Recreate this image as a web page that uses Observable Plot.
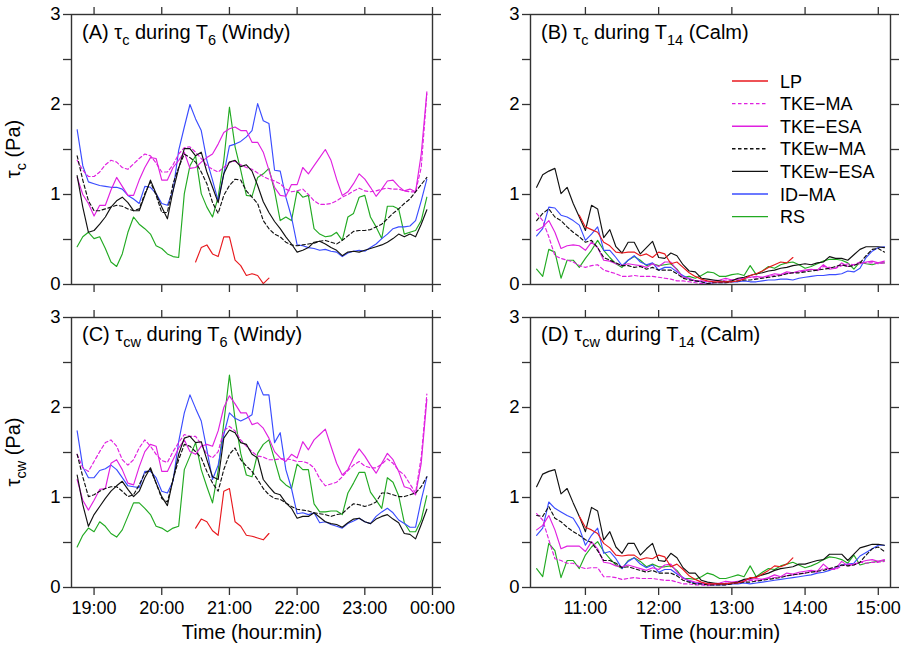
<!DOCTYPE html>
<html>
<head>
<meta charset="utf-8">
<script src="https://cdn.jsdelivr.net/npm/d3@7"></script>
<script src="https://cdn.jsdelivr.net/npm/@observablehq/plot@0.6"></script>
<style>
  html, body { margin: 0; padding: 0; background: #fff; }
  #chart { position: relative; width: 908px; height: 649px; font-family: "Liberation Sans", Arial, Helvetica, sans-serif; }
  #chart > div { position: absolute; }
  svg { overflow: visible; }
</style>
</head>
<body>
<div id="chart">
  <div id="pA" style="left:0;top:0"></div>
  <div id="pB" style="left:454px;top:0"></div>
  <div id="pC" style="left:0;top:300px"></div>
  <div id="pD" style="left:454px;top:300px"></div>
</div>
<script>
// ---------- series names and styles ----------
const seriesNames = ["LP", "TKE\u2212MA", "TKE\u2212ESA", "TKEw\u2212MA", "TKEw\u2212ESA", "ID\u2212MA", "RS"];
const seriesColors = ["#e8191e", "#e020e0", "#e020e0", "#111111", "#111111", "#3a4cff", "#22aa22"];
const seriesDashed = [false, true, false, true, false, false, false];

// ---------- time axes ----------
// T6 (windy): samples every 5 min starting 18:45 (minutes after midnight)
const T6_start = 1125, T6_step = 5, T6_count = 63;
// T14 (calm): samples every 5 min starting 10:20
const T14_start = 620, T14_step = 5, T14_count = 58;
const T6_ticks = [1140, 1200, 1260, 1320, 1380, 1440];
const T6_tickLabels = ["19:00", "20:00", "21:00", "22:00", "23:00", "00:00"];
const T14_ticks = [660, 720, 780, 840, 900];
const T14_tickLabels = ["11:00", "12:00", "13:00", "14:00", "15:00"];
const yTicks = [0, 0.5, 1, 1.5, 2, 2.5, 3];

// ---------- Panel A: tau_c during T6 (Windy) ----------
const A_LP = [null,null,null,null,null,null,null,null,null,null,null,null,null,null,null,null,null,null,null,null,null,
  0.25,0.41,0.44,0.34,0.31,0.53,0.53,0.27,0.21,0.10,0.12,0.10,0.01,0.07,
  null,null,null,null,null,null,null,null,null,null,null,null,null,null,null,null,null,null,null,null,null,null,null,null,null,null,null,null];
const A_TKE_MA = [1.38,1.27,1.20,1.20,1.25,1.33,1.38,1.36,1.30,1.28,1.34,1.40,1.45,1.43,1.35,1.25,1.25,1.33,1.45,1.52,1.53,1.47,1.40,1.32,1.28,1.25,1.30,1.36,1.37,1.33,1.30,1.28,
  1.24,1.20,1.17,1.15,1.12,1.06,1.03,1.04,1.06,1.00,0.93,0.89,0.89,0.90,0.93,0.97,1.00,1.04,1.07,1.04,1.03,1.04,1.06,1.07,1.06,1.06,1.04,1.03,1.03,1.30,2.12];
const A_TKE_ESA = [1.19,1.00,0.90,0.76,0.88,0.88,1.05,1.19,1.09,0.99,0.99,1.16,1.30,1.41,1.40,1.16,1.16,1.30,1.38,1.47,1.29,1.30,1.36,1.41,1.45,1.56,1.69,1.73,1.75,1.71,1.71,1.58,
  1.58,1.47,1.27,1.08,0.99,0.98,1.11,1.11,1.30,1.23,1.32,1.41,1.50,1.38,1.17,0.99,1.03,1.12,1.23,1.17,1.08,0.98,1.06,1.15,1.16,1.09,1.04,1.06,1.03,1.45,2.14];
const A_TKEw_MA = [1.43,1.16,0.93,0.82,0.82,0.84,0.86,0.88,0.87,0.84,0.82,0.84,1.01,1.14,0.99,0.80,0.80,1.12,1.30,1.45,1.41,1.36,1.25,1.12,0.91,0.79,0.99,1.10,1.17,1.16,1.04,0.97,
  0.90,0.71,0.62,0.56,0.53,0.47,0.44,0.43,0.44,0.45,0.46,0.48,0.49,0.47,0.45,0.49,0.54,0.59,0.60,0.60,0.61,0.64,0.67,0.73,0.79,0.84,0.90,0.95,1.03,1.11,1.19];
const A_TKEw_ESA = [1.21,0.86,0.58,0.60,0.67,0.75,0.86,0.93,0.97,0.91,0.82,0.82,0.99,1.16,1.01,0.86,0.73,1.04,1.29,1.51,1.51,1.43,1.47,1.25,1.08,0.91,1.23,1.36,1.38,1.31,1.33,1.26,
  1.10,0.92,0.80,0.70,0.62,0.53,0.45,0.36,0.38,0.41,0.47,0.48,0.45,0.41,0.38,0.32,0.36,0.37,0.36,0.38,0.40,0.42,0.44,0.47,0.51,0.56,0.53,0.56,0.53,0.67,0.83];
const A_ID_MA = [1.72,1.32,1.14,1.12,1.10,1.09,1.08,1.08,1.06,0.99,0.95,0.90,1.09,1.08,1.01,0.90,0.88,1.04,1.49,1.75,2.00,1.84,1.71,1.38,1.16,0.93,1.23,1.54,1.56,1.59,1.64,1.71,
  2.01,1.82,1.79,1.27,1.26,0.97,0.75,0.44,0.43,0.41,0.40,0.38,0.39,0.37,0.36,0.31,0.35,0.37,0.38,0.37,0.41,0.45,0.51,0.56,0.62,0.64,0.64,0.65,0.71,0.93,1.17];
const A_RS = [0.42,0.53,0.58,0.51,0.53,0.40,0.25,0.20,0.34,0.58,0.75,0.67,0.62,0.56,0.43,0.40,0.34,0.31,0.30,1.01,1.32,1.43,1.01,0.86,0.75,0.97,1.38,1.97,1.53,1.27,0.99,0.98,
  1.19,1.23,1.29,1.04,0.71,0.75,0.71,1.04,0.97,0.99,0.62,0.56,0.53,0.54,0.58,0.49,0.75,0.79,0.97,0.99,0.75,0.64,0.51,0.87,0.87,0.84,0.56,0.58,0.60,0.71,0.97];

// ---------- Panel C: tau_cw during T6 (Windy) ----------
const C_LP = [null,null,null,null,null,null,null,null,null,null,null,null,null,null,null,null,null,null,null,null,null,
  0.66,0.76,0.73,0.63,0.58,1.07,1.10,0.73,0.68,0.58,0.57,0.55,0.53,0.60,
  null,null,null,null,null,null,null,null,null,null,null,null,null,null,null,null,null,null,null,null,null,null,null,null,null,null,null,null];
const C_TKE_MA = [1.48,1.33,1.29,1.40,1.51,1.61,1.64,1.57,1.42,1.36,1.42,1.55,1.64,1.57,1.48,1.41,1.39,1.51,1.61,1.70,1.68,1.68,1.59,1.48,1.44,1.51,1.74,1.79,1.74,1.64,1.57,1.51,
  1.46,1.45,1.42,1.42,1.43,1.43,1.42,1.40,1.40,1.38,1.33,1.21,1.13,1.15,1.17,1.23,1.30,1.36,1.40,1.35,1.33,1.33,1.37,1.43,1.38,1.30,1.25,1.15,1.05,1.45,2.15];
const C_TKE_ESA = [1.20,0.97,0.86,0.97,1.09,1.10,1.38,1.42,1.31,1.16,1.14,1.34,1.51,1.59,1.57,1.29,1.29,1.42,1.55,1.64,1.51,1.48,1.57,1.59,1.57,1.74,2.00,2.13,2.04,1.94,1.94,1.81,
  1.83,1.77,1.66,1.51,1.44,1.40,1.48,1.44,1.62,1.53,1.64,1.70,1.76,1.57,1.38,1.25,1.31,1.44,1.54,1.46,1.36,1.27,1.38,1.49,1.42,1.29,1.12,1.10,1.03,1.38,2.09];
const C_TKEw_MA = [1.48,1.23,1.01,1.03,1.07,1.10,1.12,1.12,1.07,1.01,1.03,1.14,1.27,1.31,1.16,0.99,0.95,1.20,1.42,1.59,1.57,1.51,1.44,1.29,1.16,1.07,1.31,1.48,1.55,1.42,1.35,1.29,
  1.20,1.10,1.03,0.99,0.98,0.94,0.90,0.87,0.86,0.85,0.83,0.82,0.81,0.79,0.81,0.82,0.88,0.93,0.92,0.90,0.92,0.95,1.05,1.05,1.03,1.01,1.01,1.03,1.05,1.12,1.23];
const C_TKEw_ESA = [1.25,0.92,0.68,0.81,0.90,0.99,1.07,1.13,1.18,1.09,1.01,1.07,1.22,1.33,1.16,1.01,0.91,1.20,1.48,1.66,1.68,1.61,1.62,1.42,1.23,1.20,1.66,1.75,1.72,1.61,1.59,1.48,
  1.44,1.20,1.12,1.05,1.03,0.94,0.88,0.77,0.79,0.79,0.83,0.78,0.73,0.71,0.70,0.67,0.72,0.76,0.77,0.73,0.71,0.76,0.79,0.81,0.76,0.72,0.60,0.59,0.54,0.70,0.87];
const C_ID_MA = [1.74,1.34,1.22,1.22,1.30,1.32,1.36,1.31,1.22,1.13,1.12,1.11,1.29,1.29,1.22,1.07,1.05,1.18,1.62,1.94,2.14,1.99,1.85,1.53,1.20,1.36,1.70,1.94,1.88,1.85,1.88,1.92,
  2.29,2.14,2.14,1.61,1.72,1.31,1.10,0.82,0.83,0.81,0.83,0.72,0.73,0.70,0.68,0.66,0.71,0.74,0.77,0.73,0.71,0.79,0.84,0.88,0.83,0.75,0.71,0.67,0.67,0.97,1.23];
const C_RS = [0.45,0.58,0.66,0.62,0.73,0.68,0.60,0.56,0.64,0.79,0.94,0.94,0.88,0.81,0.68,0.66,0.62,0.66,0.68,1.31,1.46,1.61,1.31,1.12,0.94,1.30,1.83,2.36,1.87,1.49,1.25,1.23,
  1.49,1.59,1.64,1.42,1.20,1.14,1.10,1.37,1.31,1.31,0.93,0.84,0.84,0.85,0.85,0.81,1.05,1.16,1.28,1.28,1.06,0.97,0.88,1.22,1.17,1.02,0.72,0.62,0.62,0.75,1.02];

// ---------- Panel B: tau_c during T14 (Calm) ----------
const B_LP = [null,null,null,null,null,null,null,
  0.77,0.64,0.61,0.58,0.47,0.43,0.36,0.35,0.36,0.36,0.32,0.34,0.30,0.36,0.34,0.23,0.25,0.19,0.13,0.09,0.06,0.04,
  0.03,0.03,0.03,0.03,0.04,0.06,0.10,0.12,0.15,0.19,0.22,0.25,0.24,0.30,
  null,null,null,null,null,null,null,null,null,null,null,null,null,null,null];
const B_TKE_MA = [0.79,0.71,0.53,0.32,0.29,0.27,0.25,0.21,0.19,0.21,0.22,0.16,0.14,0.12,0.09,0.09,0.10,0.09,0.09,0.09,0.08,0.07,0.06,0.04,0.04,0.03,0.02,0.01,0.01,
  0.02,0.03,0.05,0.05,0.06,0.07,0.08,0.07,0.08,0.09,0.10,0.11,0.12,0.13,0.14,0.15,0.17,0.15,0.20,0.19,0.18,0.21,0.23,0.22,0.25,0.24,0.24,0.23,0.24];
const B_TKE_ESA = [0.60,0.64,0.71,0.58,0.40,0.43,0.44,0.43,0.38,0.47,0.41,0.27,0.26,0.23,0.21,0.23,0.22,0.21,0.19,0.23,0.20,0.25,0.25,0.16,0.08,0.07,0.04,0.04,0.03,
  0.04,0.05,0.07,0.05,0.06,0.07,0.08,0.09,0.08,0.10,0.12,0.11,0.14,0.13,0.15,0.16,0.17,0.16,0.22,0.17,0.18,0.24,0.20,0.22,0.23,0.25,0.26,0.24,0.26];
const B_TKEw_MA = [0.71,0.79,0.84,0.75,0.71,0.64,0.58,0.53,0.47,0.49,0.41,0.30,0.27,0.24,0.21,0.21,0.19,0.20,0.17,0.19,0.16,0.16,0.16,0.12,0.07,0.05,0.04,0.03,0.01,
  0.02,0.02,0.02,0.03,0.04,0.05,0.05,0.06,0.07,0.08,0.09,0.10,0.12,0.13,0.13,0.14,0.15,0.16,0.17,0.18,0.20,0.22,0.20,0.21,0.24,0.32,0.39,0.40,0.36];
const B_TKEw_ESA = [1.08,1.22,1.26,1.29,1.01,1.08,0.90,0.75,0.60,0.88,0.84,0.52,0.61,0.42,0.35,0.47,0.47,0.34,0.41,0.48,0.30,0.29,0.35,0.32,0.22,0.15,0.14,0.07,0.06,
  0.05,0.04,0.03,0.04,0.07,0.08,0.10,0.12,0.13,0.15,0.16,0.18,0.19,0.21,0.22,0.23,0.22,0.24,0.25,0.31,0.29,0.29,0.27,0.33,0.39,0.42,0.42,0.42,0.41];
const B_ID_MA = [0.54,0.62,0.86,0.85,0.77,0.75,0.71,0.66,0.49,0.56,0.64,0.38,0.38,0.30,0.21,0.27,0.32,0.25,0.22,0.24,0.16,0.19,0.19,0.14,0.10,0.06,0.04,0.03,0.01,
  0.02,0.02,0.02,0.03,0.03,0.04,0.03,0.03,0.04,0.05,0.05,0.06,0.06,0.05,0.07,0.08,0.09,0.10,0.10,0.11,0.11,0.12,0.15,0.14,0.18,0.30,0.37,0.41,0.42];
const B_RS = [0.17,0.09,0.39,0.36,0.07,0.27,0.27,0.19,0.29,0.38,0.49,0.38,0.30,0.23,0.19,0.27,0.31,0.27,0.21,0.23,0.21,0.22,0.23,0.17,0.08,0.09,0.07,0.10,0.14,
  0.13,0.09,0.09,0.11,0.12,0.10,0.21,0.11,0.15,0.20,0.18,0.22,0.24,0.25,0.22,0.18,0.20,0.23,0.26,0.28,0.28,0.27,0.24,0.17,0.25,0.23,0.22,0.24,0.24];

// ---------- Panel D: tau_cw during T14 (Calm) ----------
const D_LP = [null,null,null,null,null,null,null,
  0.79,0.67,0.64,0.60,0.49,0.44,0.36,0.35,0.36,0.36,0.31,0.33,0.32,0.36,0.34,0.23,0.26,0.20,0.13,0.09,0.06,0.04,
  0.04,0.04,0.04,0.05,0.05,0.07,0.11,0.11,0.15,0.19,0.24,0.23,0.26,0.33,
  null,null,null,null,null,null,null,null,null,null,null,null,null,null,null];
const D_TKE_MA = [0.82,0.75,0.53,0.32,0.30,0.27,0.27,0.23,0.21,0.22,0.22,0.12,0.12,0.11,0.09,0.10,0.11,0.10,0.10,0.10,0.09,0.08,0.08,0.06,0.04,0.04,0.03,0.03,0.02,
  0.03,0.04,0.05,0.05,0.06,0.07,0.08,0.08,0.09,0.10,0.11,0.12,0.13,0.14,0.15,0.16,0.18,0.17,0.21,0.21,0.20,0.24,0.26,0.25,0.28,0.27,0.28,0.28,0.29];
const D_TKE_ESA = [0.64,0.69,0.80,0.64,0.43,0.46,0.46,0.46,0.40,0.51,0.43,0.28,0.27,0.24,0.23,0.25,0.23,0.21,0.19,0.22,0.20,0.25,0.26,0.17,0.10,0.08,0.06,0.05,0.04,
  0.04,0.05,0.07,0.06,0.07,0.08,0.09,0.10,0.09,0.11,0.14,0.12,0.16,0.15,0.17,0.18,0.19,0.18,0.26,0.20,0.21,0.29,0.24,0.26,0.28,0.30,0.31,0.29,0.31];
const D_TKEw_MA = [0.80,0.79,0.90,0.77,0.73,0.67,0.62,0.58,0.53,0.50,0.41,0.30,0.30,0.27,0.22,0.23,0.21,0.19,0.17,0.19,0.16,0.16,0.16,0.13,0.08,0.06,0.04,0.04,0.03,
  0.03,0.03,0.03,0.04,0.05,0.06,0.06,0.07,0.08,0.09,0.10,0.11,0.13,0.14,0.15,0.16,0.17,0.18,0.19,0.21,0.23,0.25,0.24,0.25,0.28,0.36,0.43,0.45,0.40];
const D_TKEw_ESA = [1.12,1.26,1.29,1.31,1.04,1.10,0.94,0.79,0.62,0.89,0.85,0.53,0.62,0.45,0.38,0.49,0.49,0.36,0.43,0.49,0.30,0.29,0.38,0.33,0.22,0.16,0.16,0.08,0.06,
  0.05,0.04,0.04,0.05,0.06,0.09,0.10,0.12,0.14,0.16,0.19,0.21,0.22,0.23,0.26,0.26,0.28,0.30,0.31,0.37,0.37,0.37,0.30,0.37,0.44,0.46,0.48,0.48,0.47];
const D_ID_MA = [0.58,0.66,0.95,0.88,0.84,0.80,0.77,0.66,0.47,0.58,0.66,0.38,0.40,0.32,0.21,0.29,0.33,0.26,0.22,0.25,0.17,0.20,0.20,0.15,0.11,0.07,0.05,0.04,0.03,
  0.03,0.03,0.03,0.04,0.04,0.05,0.04,0.05,0.06,0.07,0.08,0.09,0.10,0.11,0.12,0.13,0.14,0.16,0.17,0.19,0.22,0.25,0.26,0.27,0.35,0.39,0.43,0.47,0.47];
const D_RS = [0.21,0.12,0.49,0.41,0.11,0.30,0.30,0.21,0.36,0.45,0.51,0.40,0.32,0.25,0.21,0.30,0.33,0.29,0.23,0.26,0.23,0.23,0.24,0.19,0.10,0.10,0.09,0.12,0.16,
  0.14,0.10,0.10,0.12,0.14,0.12,0.24,0.12,0.17,0.21,0.20,0.24,0.26,0.28,0.25,0.22,0.24,0.27,0.31,0.34,0.33,0.31,0.27,0.36,0.25,0.27,0.28,0.29,0.30];

// ---------- helpers ----------
const FONT = '"Liberation Sans", Arial, Helvetica, sans-serif';
const frameColor = "#333333";

function timeAxis(start, step, n) { return d3.range(n).map(k => start + step * k); }

function buildPanel(opts) {
  const { series, times, xDomain, xTicks, xTickLabels, showX, width, height, mLeft, mRight, mTop, mBottom } = opts;
  const labelOf = d => { const i = xTicks.indexOf(d); return i >= 0 ? xTickLabels[i] : ""; };
  const lines = series.map((vals, i) => Plot.line(vals, {
    x: times, y: vals,
    stroke: seriesColors[i], strokeWidth: 1.15,
    strokeDasharray: seriesDashed[i] ? "3.5,2.5" : null,
    curve: "linear"
  }));
  // draw order: RS, ID-MA, TKE-MA, TKE-ESA, TKEw-MA, TKEw-ESA, LP
  const order = [6, 5, 1, 2, 3, 4, 0];
  return Plot.plot({
    width, height,
    marginLeft: mLeft, marginRight: mRight, marginTop: mTop, marginBottom: mBottom,
    style: { fontFamily: FONT, fontSize: "18px", color: "#000", background: "transparent" },
    x: { domain: xDomain },
    y: { domain: [0, 3] },
    marks: [
      ...order.map(i => lines[i]),
      Plot.frame({ stroke: frameColor, strokeWidth: 1.4 }),
      Plot.axisY({ ticks: yTicks, tickSize: 8, tickPadding: 3, strokeWidth: 1.3, stroke: frameColor,
        tickFormat: d => (Number.isInteger(d) ? String(d) : ""), label: null, fontSize: 18.5 }),
      Plot.axisY({ anchor: "right", ticks: yTicks, tickSize: 8, strokeWidth: 1.3, stroke: frameColor,
        tickFormat: () => "", label: null }),
      Plot.axisX({ anchor: "top", ticks: xTicks, tickSize: 8, strokeWidth: 1.3, stroke: frameColor,
        tickFormat: () => "", label: null }),
      Plot.axisX({ anchor: "bottom", ticks: xTicks, tickSize: 8, tickPadding: 6, strokeWidth: 1.3, stroke: frameColor,
        tickFormat: showX ? labelOf : () => "", label: null, fontSize: 18 })
    ]
  });
}

function addTitle(svg, x, y, parts) {
  const t = d3.select(svg).append("text")
    .attr("x", x).attr("y", y)
    .attr("text-anchor", "start")
    .attr("font-family", FONT).attr("font-size", 20).attr("fill", "#000");
  let shift = 0;
  parts.forEach(p => {
    const target = p.sub ? 6 : 0;
    const span = t.append("tspan").text(p.text).attr("dy", target - shift);
    if (p.sub) span.attr("font-size", 14.5);
    shift = target;
  });
  return t;
}

function addYLabel(svg, cx, cy, sub) {
  const t = d3.select(svg).append("text")
    .attr("transform", `translate(${cx},${cy}) rotate(-90)`)
    .attr("text-anchor", "middle")
    .attr("font-family", FONT).attr("font-size", 20).attr("fill", "#000");
  t.append("tspan").text("\u03c4");
  t.append("tspan").text(sub).attr("font-size", 14.5).attr("dy", 6);
  t.append("tspan").text(" (Pa)").attr("dy", -6);
}

function addXLabel(svg, cx, y) {
  d3.select(svg).append("text")
    .attr("x", cx).attr("y", y).attr("text-anchor", "middle")
    .attr("font-family", FONT).attr("font-size", 20).attr("fill", "#000")
    .text("Time (hour:min)");
}

function addLegend(svg, x0, x1, tx, y0, dy) {
  const g = d3.select(svg).append("g").attr("text-anchor", "start");
  seriesNames.forEach((name, i) => {
    const y = y0 + i * dy;
    g.append("line").attr("x1", x0).attr("x2", x1).attr("y1", y).attr("y2", y)
      .attr("stroke", seriesColors[i]).attr("stroke-width", 1.4)
      .attr("stroke-dasharray", seriesDashed[i] ? "3.5,2.5" : null);
    g.append("text").attr("x", tx).attr("y", y + 6.5).attr("text-anchor", "start")
      .attr("font-family", FONT).attr("font-size", 18).attr("fill", "#000").text(name);
  });
}

// ---------- build ----------
const tT6 = timeAxis(T6_start, T6_step, T6_count);
const tT14 = timeAxis(T14_start, T14_step, T14_count);
const T6_domain = [1120, 1440];
const T14_domain = [615, 910];

const svgA = buildPanel({ series: [A_LP, A_TKE_MA, A_TKE_ESA, A_TKEw_MA, A_TKEw_ESA, A_ID_MA, A_RS], times: tT6,
  xDomain: T6_domain, xTicks: T6_ticks, xTickLabels: T6_tickLabels, showX: false,
  width: 454, height: 300, mLeft: 71, mRight: 22, mTop: 14, mBottom: 16 });
const svgB = buildPanel({ series: [B_LP, B_TKE_MA, B_TKE_ESA, B_TKEw_MA, B_TKEw_ESA, B_ID_MA, B_RS], times: tT14,
  xDomain: T14_domain, xTicks: T14_ticks, xTickLabels: T14_tickLabels, showX: false,
  width: 454, height: 300, mLeft: 76, mRight: 18, mTop: 14, mBottom: 16 });
const svgC = buildPanel({ series: [C_LP, C_TKE_MA, C_TKE_ESA, C_TKEw_MA, C_TKEw_ESA, C_ID_MA, C_RS], times: tT6,
  xDomain: T6_domain, xTicks: T6_ticks, xTickLabels: T6_tickLabels, showX: true,
  width: 454, height: 349, mLeft: 71, mRight: 22, mTop: 17, mBottom: 62 });
const svgD = buildPanel({ series: [D_LP, D_TKE_MA, D_TKE_ESA, D_TKEw_MA, D_TKEw_ESA, D_ID_MA, D_RS], times: tT14,
  xDomain: T14_domain, xTicks: T14_ticks, xTickLabels: T14_tickLabels, showX: true,
  width: 454, height: 349, mLeft: 76, mRight: 18, mTop: 17, mBottom: 62 });

document.getElementById("pA").appendChild(svgA);
document.getElementById("pB").appendChild(svgB);
document.getElementById("pC").appendChild(svgC);
document.getElementById("pD").appendChild(svgD);

addTitle(svgA, 82, 39, [{text: "(A) \u03c4"}, {text: "c", sub: true}, {text: " during T"}, {text: "6", sub: true}, {text: " (Windy)"}]);
addTitle(svgB, 87, 39, [{text: "(B) \u03c4"}, {text: "c", sub: true}, {text: " during T"}, {text: "14", sub: true}, {text: " (Calm)"}]);
addTitle(svgC, 82, 41, [{text: "(C) \u03c4"}, {text: "cw", sub: true}, {text: " during T"}, {text: "6", sub: true}, {text: " (Windy)"}]);
addTitle(svgD, 87, 41, [{text: "(D) \u03c4"}, {text: "cw", sub: true}, {text: " during T"}, {text: "14", sub: true}, {text: " (Calm)"}]);

addYLabel(svgA, 20, 149, "c");
addYLabel(svgC, 20, 152, "cw");
addXLabel(svgC, 252, 339);
addXLabel(svgD, 256, 339);
addLegend(svgB, 278, 314, 326, 81, 22.6);
</script>
</body>
</html>
